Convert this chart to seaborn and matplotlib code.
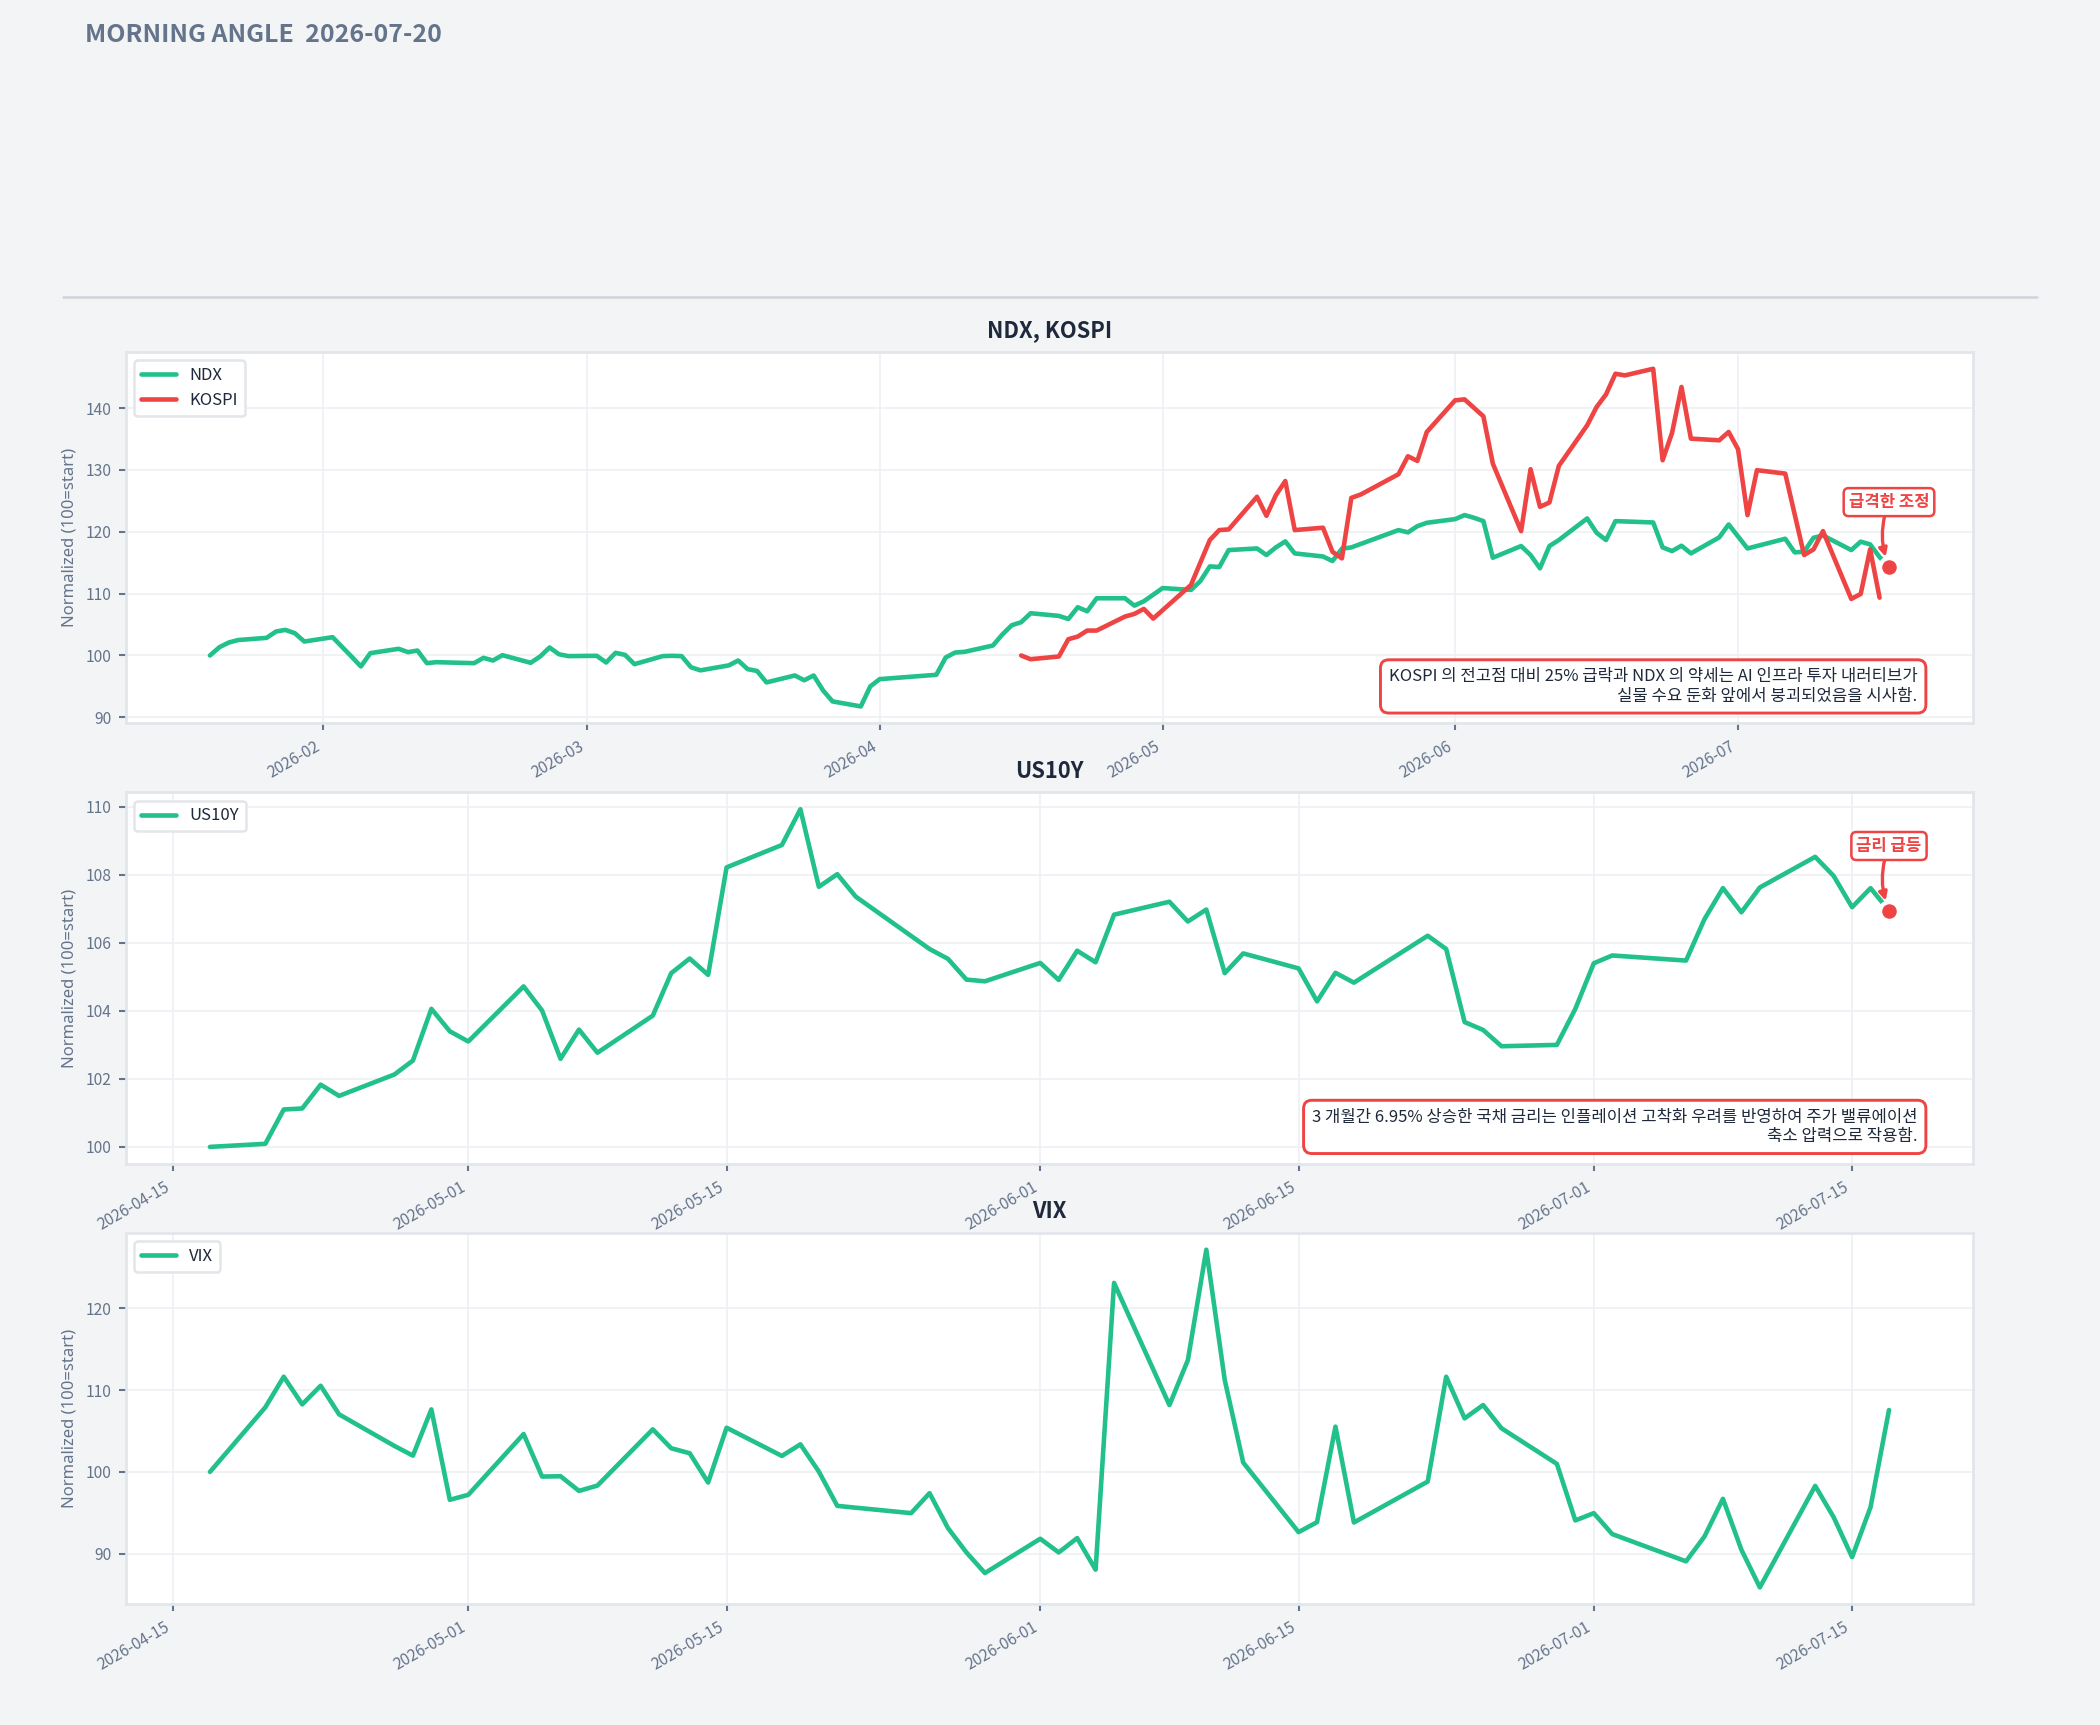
import matplotlib

matplotlib.use("Agg")

import matplotlib.dates as mdates
import matplotlib.pyplot as plt
import pandas as pd
import seaborn as sns
from matplotlib.lines import Line2D

# ---- data (normalized, 100 = start) ----
ndx_dates = [
    "2026-01-20", "2026-01-21", "2026-01-22", "2026-01-23", "2026-01-26", "2026-01-27",
    "2026-01-28", "2026-01-29", "2026-01-30", "2026-02-02", "2026-02-03", "2026-02-04",
    "2026-02-05", "2026-02-06", "2026-02-09", "2026-02-10", "2026-02-11", "2026-02-12",
    "2026-02-13", "2026-02-17", "2026-02-18", "2026-02-19", "2026-02-20", "2026-02-23",
    "2026-02-24", "2026-02-25", "2026-02-26", "2026-02-27", "2026-03-02", "2026-03-03",
    "2026-03-04", "2026-03-05", "2026-03-06", "2026-03-09", "2026-03-10", "2026-03-11",
    "2026-03-12", "2026-03-13", "2026-03-16", "2026-03-17", "2026-03-18", "2026-03-19",
    "2026-03-20", "2026-03-23", "2026-03-24", "2026-03-25", "2026-03-26", "2026-03-27",
    "2026-03-30", "2026-03-31", "2026-04-01", "2026-04-07", "2026-04-08", "2026-04-09",
    "2026-04-10", "2026-04-13", "2026-04-14", "2026-04-15", "2026-04-16", "2026-04-17",
    "2026-04-20", "2026-04-21", "2026-04-22", "2026-04-23", "2026-04-24", "2026-04-27",
    "2026-04-28", "2026-04-29", "2026-05-01", "2026-05-04", "2026-05-05", "2026-05-06",
    "2026-05-07", "2026-05-08", "2026-05-11", "2026-05-12", "2026-05-13", "2026-05-14",
    "2026-05-15", "2026-05-18", "2026-05-19", "2026-05-20", "2026-05-21", "2026-05-26",
    "2026-05-27", "2026-05-28", "2026-05-29", "2026-06-01", "2026-06-02", "2026-06-03",
    "2026-06-04", "2026-06-05", "2026-06-08", "2026-06-09", "2026-06-10", "2026-06-11",
    "2026-06-12", "2026-06-15", "2026-06-16", "2026-06-17", "2026-06-18", "2026-06-22",
    "2026-06-23", "2026-06-24", "2026-06-25", "2026-06-26", "2026-06-29", "2026-06-30",
    "2026-07-02", "2026-07-06", "2026-07-07", "2026-07-08", "2026-07-09", "2026-07-10",
    "2026-07-13", "2026-07-14", "2026-07-15", "2026-07-16", "2026-07-17",
]
ndx_values = [
    100.0, 101.34, 102.1, 102.5, 102.85, 103.87,
    104.14, 103.6, 102.26, 102.96, 101.4, 99.84,
    98.23, 100.38, 101.08, 100.54, 100.8, 98.76,
    98.92, 98.76, 99.62, 99.19, 100.05, 98.82,
    99.84, 101.29, 100.2, 99.9, 99.95, 98.87,
    100.43, 100.1, 98.6, 99.9, 99.95, 99.9,
    98.1, 97.6, 98.4, 99.19, 97.8, 97.5,
    95.65, 96.77, 96.0, 96.77, 94.35, 92.58,
    91.77, 95.0, 96.18, 96.88, 99.68, 100.48,
    100.59, 101.61, 103.39, 104.89, 105.38, 106.83,
    106.4, 105.9, 107.8, 107.15, 109.25, 109.25,
    108.06, 108.76, 110.9, 110.6, 112.04, 114.4,
    114.3, 117.04, 117.3, 116.24, 117.47, 118.44,
    116.5, 116.0, 115.27, 117.26, 117.47, 120.27,
    119.9, 120.9, 121.45, 122.04, 122.69, 122.26,
    121.72, 115.8, 117.69, 116.24, 114.09, 117.69,
    118.66, 122.15, 119.84, 118.66, 121.72, 121.5,
    117.47, 116.88, 117.74, 116.5, 119.09, 121.18,
    117.3, 118.87, 116.67, 116.77, 119.03, 119.4,
    117.04, 118.4, 117.96, 115.9, 114.35,
]

kospi_dates = [
    "2026-04-16", "2026-04-17", "2026-04-20", "2026-04-21", "2026-04-22", "2026-04-23",
    "2026-04-24", "2026-04-27", "2026-04-28", "2026-04-29", "2026-04-30", "2026-05-04",
    "2026-05-06", "2026-05-07", "2026-05-08", "2026-05-11", "2026-05-12", "2026-05-13",
    "2026-05-14", "2026-05-15", "2026-05-18", "2026-05-19", "2026-05-20", "2026-05-21",
    "2026-05-22", "2026-05-26", "2026-05-27", "2026-05-28", "2026-05-29", "2026-06-01",
    "2026-06-02", "2026-06-04", "2026-06-05", "2026-06-08", "2026-06-09", "2026-06-10",
    "2026-06-11", "2026-06-12", "2026-06-15", "2026-06-16", "2026-06-17", "2026-06-18",
    "2026-06-19", "2026-06-22", "2026-06-23", "2026-06-24", "2026-06-25", "2026-06-26",
    "2026-06-29", "2026-06-30", "2026-07-01", "2026-07-02", "2026-07-03", "2026-07-06",
    "2026-07-08", "2026-07-09", "2026-07-10", "2026-07-13", "2026-07-14", "2026-07-15",
    "2026-07-16",
]
kospi_values = [
    100.0, 99.4, 99.84, 102.63, 103.06, 104.03,
    104.03, 106.29, 106.72, 107.53, 105.97, 111.4,
    118.66, 120.27, 120.38, 125.65, 122.58, 125.9,
    128.2, 120.27, 120.65, 116.77, 115.7, 125.48,
    126.02, 129.3, 132.2, 131.45, 136.13, 141.24,
    141.4, 138.66, 131.02, 120.1, 130.1, 124.03,
    124.73, 130.65, 137.2, 140.16, 142.2, 145.54,
    145.27, 146.34, 131.56, 135.97, 143.4, 135.05,
    134.78, 136.13, 133.33, 122.69, 129.95, 129.4,
    116.24, 117.15, 120.1, 109.14, 109.95, 117.15,
    109.35,
]

us10y_dates = [
    "2026-04-17", "2026-04-20", "2026-04-21", "2026-04-22", "2026-04-23", "2026-04-24",
    "2026-04-27", "2026-04-28", "2026-04-29", "2026-04-30", "2026-05-01", "2026-05-04",
    "2026-05-05", "2026-05-06", "2026-05-07", "2026-05-08", "2026-05-11", "2026-05-12",
    "2026-05-13", "2026-05-14", "2026-05-15", "2026-05-18", "2026-05-19", "2026-05-20",
    "2026-05-21", "2026-05-22", "2026-05-26", "2026-05-27", "2026-05-28", "2026-05-29",
    "2026-06-01", "2026-06-02", "2026-06-03", "2026-06-04", "2026-06-05", "2026-06-08",
    "2026-06-09", "2026-06-10", "2026-06-11", "2026-06-12", "2026-06-15", "2026-06-16",
    "2026-06-17", "2026-06-18", "2026-06-22", "2026-06-23", "2026-06-24", "2026-06-25",
    "2026-06-26", "2026-06-29", "2026-06-30", "2026-07-01", "2026-07-02", "2026-07-06",
    "2026-07-07", "2026-07-08", "2026-07-09", "2026-07-10", "2026-07-13", "2026-07-14",
    "2026-07-15", "2026-07-16", "2026-07-17",
]
us10y_values = [
    100.0, 100.09, 101.1, 101.13, 101.83, 101.5,
    102.13, 102.54, 104.06, 103.4, 103.1, 104.72,
    104.01, 102.59, 103.45, 102.77, 103.86, 105.11,
    105.54, 105.06, 108.22, 108.88, 109.93, 107.65,
    108.02, 107.36, 105.82, 105.53, 104.92, 104.87,
    105.41, 104.91, 105.77, 105.43, 106.83, 107.21,
    106.63, 106.98, 105.11, 105.69, 105.25, 104.28,
    105.12, 104.83, 106.21, 105.82, 103.67, 103.44,
    102.96, 103.0, 104.06, 105.4, 105.63, 105.48,
    106.7, 107.61, 106.9, 107.63, 108.53, 107.97,
    107.05, 107.61, 106.95,
]

vix_dates = [
    "2026-04-17", "2026-04-20", "2026-04-21", "2026-04-22", "2026-04-23", "2026-04-24",
    "2026-04-27", "2026-04-28", "2026-04-29", "2026-04-30", "2026-05-01", "2026-05-04",
    "2026-05-05", "2026-05-06", "2026-05-07", "2026-05-08", "2026-05-11", "2026-05-12",
    "2026-05-13", "2026-05-14", "2026-05-15", "2026-05-18", "2026-05-19", "2026-05-20",
    "2026-05-21", "2026-05-25", "2026-05-26", "2026-05-27", "2026-05-28", "2026-05-29",
    "2026-06-01", "2026-06-02", "2026-06-03", "2026-06-04", "2026-06-05", "2026-06-08",
    "2026-06-09", "2026-06-10", "2026-06-11", "2026-06-12", "2026-06-15", "2026-06-16",
    "2026-06-17", "2026-06-18", "2026-06-22", "2026-06-23", "2026-06-24", "2026-06-25",
    "2026-06-26", "2026-06-29", "2026-06-30", "2026-07-01", "2026-07-02", "2026-07-06",
    "2026-07-07", "2026-07-08", "2026-07-09", "2026-07-10", "2026-07-13", "2026-07-14",
    "2026-07-15", "2026-07-16", "2026-07-17",
]
vix_values = [
    100.0, 107.89, 111.63, 108.25, 110.53, 107.03,
    103.17, 101.99, 107.64, 96.59, 97.2, 104.63,
    99.43, 99.47, 97.68, 98.33, 105.2, 102.89,
    102.28, 98.7, 105.4, 101.95, 103.37, 100.04,
    95.85, 94.96, 97.4, 93.13, 90.16, 87.64,
    91.83, 90.16, 91.91, 88.05, 123.09, 108.17,
    113.66, 127.15, 111.22, 101.14, 92.64, 93.86,
    105.53, 93.82, 98.82, 111.63, 106.54, 108.17,
    105.33, 100.98, 94.07, 94.96, 92.4, 89.07,
    92.11, 96.71, 90.49, 85.89, 98.29, 94.47,
    89.59, 95.69, 107.56,
]

report_title = "MORNING ANGLE  2026-07-20"
ylabel_text = "Normalized (100=start)"
note_equity = (
    "KOSPI 의 전고점 대비 25% 급락과 NDX 의 약세는 AI 인프라 투자 내러티브가\n"
    "실물 수요 둔화 앞에서 붕괴되었음을 시사함."
)
note_rates = (
    "3 개월간 6.95% 상승한 국채 금리는 인플레이션 고착화 우려를 반영하여 주가 밸류에이션\n"
    "축소 압력으로 작용함."
)

# ---- style ----
BG = "#f3f4f6"
GREEN = "#22c08a"
RED = "#ef4444"
SLATE = "#64748b"
DARK = "#1e293b"
SPINE = "#e2e5ea"
GRID = "#eef0f3"

sns.set_theme(
    style="whitegrid",
    rc={
        "figure.facecolor": BG,
        "axes.facecolor": "white",
        "axes.edgecolor": SPINE,
        "axes.linewidth": 1.3,
        "grid.color": GRID,
        "grid.linewidth": 0.8,
        "xtick.bottom": True,
        "ytick.left": True,
        "xtick.color": SLATE,
        "ytick.color": SLATE,
        "xtick.labelsize": 7.5,
        "ytick.labelsize": 7.5,
        "xtick.major.size": 3.5,
        "ytick.major.size": 3.5,
        "xtick.major.width": 1.0,
        "ytick.major.width": 1.0,
    },
)
plt.rcParams["font.family"] = ["Noto Sans CJK KR", "DejaVu Sans"]


def series_frame(dates, values):
    return pd.DataFrame({"date": pd.to_datetime(dates), "value": values})


def style_axis(ax, title, locator, fmt):
    ax.set_title(title, fontsize=10.5, fontweight="bold", color=DARK, pad=7)
    ax.set_xlabel("")
    ax.set_ylabel(ylabel_text, fontsize=8, color=SLATE, family="Noto Sans")
    ax.xaxis.set_major_locator(locator)
    ax.xaxis.set_major_formatter(mdates.DateFormatter(fmt))
    plt.setp(ax.get_xticklabels(), rotation=30, ha="right")
    for spine in ax.spines.values():
        spine.set_visible(True)
        spine.set_color(SPINE)
    legend = ax.legend(
        loc="upper left", fontsize=8, frameon=True, fancybox=True,
        framealpha=1.0, edgecolor="#e2e5ea", facecolor="white",
        handlelength=2.1, labelcolor=DARK,
    )
    legend.get_frame().set_linewidth(1.2)


def mark_last(ax, frame, label):
    last = frame.iloc[-1]
    ax.plot(
        last["date"], last["value"], "o", color=RED, markersize=9,
        markeredgecolor="white", markeredgewidth=2, zorder=5,
    )
    ax.annotate(
        label,
        xy=(last["date"], last["value"]),
        xytext=(0, 31),
        textcoords="offset points",
        ha="center",
        va="center",
        fontsize=8,
        fontweight="bold",
        color=RED,
        bbox=dict(boxstyle="round,pad=0.3", fc="white", ec=RED, lw=1.2),
        arrowprops=dict(
            arrowstyle="-|>", color=RED, lw=1.6, mutation_scale=8,
            shrinkA=0, shrinkB=5, connectionstyle="arc3,rad=0.2",
        ),
        zorder=6,
    )


def add_note(ax, text):
    ax.text(
        0.97, 0.05, text, transform=ax.transAxes, ha="right", va="bottom",
        multialignment="right", fontsize=8, color=DARK,
        bbox=dict(boxstyle="round,pad=0.5", fc="white", ec=RED, lw=1.4),
        zorder=6,
    )


ndx = series_frame(ndx_dates, ndx_values)
kospi = series_frame(kospi_dates, kospi_values)
us10y = series_frame(us10y_dates, us10y_values)
vix = series_frame(vix_dates, vix_values)

fig = plt.figure(figsize=(14, 11.5), dpi=150)
grid = fig.add_gridspec(
    3, 1, left=0.06, right=0.9395, top=0.796, bottom=0.070, hspace=0.186
)
ax1 = fig.add_subplot(grid[0])
ax2 = fig.add_subplot(grid[1])
ax3 = fig.add_subplot(grid[2])

sns.lineplot(data=ndx, x="date", y="value", color=GREEN, linewidth=2.2, label="NDX", ax=ax1)
sns.lineplot(data=kospi, x="date", y="value", color=RED, linewidth=2.2, label="KOSPI", ax=ax1)
sns.lineplot(data=us10y, x="date", y="value", color=GREEN, linewidth=2.2, label="US10Y", ax=ax2)
sns.lineplot(data=vix, x="date", y="value", color=GREEN, linewidth=2.2, label="VIX", ax=ax3)

style_axis(ax1, "NDX, KOSPI", mdates.MonthLocator(), "%Y-%m")
style_axis(ax2, "US10Y", mdates.MonthLocator(bymonthday=[1, 15]), "%Y-%m-%d")
style_axis(ax3, "VIX", mdates.MonthLocator(bymonthday=[1, 15]), "%Y-%m-%d")

mark_last(ax1, ndx, "급격한 조정")
mark_last(ax2, us10y, "금리 급등")
add_note(ax1, note_equity)
add_note(ax2, note_rates)

fig.text(
    0.0404, 0.9755, report_title, fontsize=12, fontweight="bold",
    color=SLATE, va="baseline", ha="left",
)
fig.add_artist(
    Line2D([0.03, 0.97], [0.828, 0.828], transform=fig.transFigure,
           color="#cfd4db", linewidth=1.2)
)

fig.savefig("out.png", dpi=150, facecolor=fig.get_facecolor())
plt.close(fig)
